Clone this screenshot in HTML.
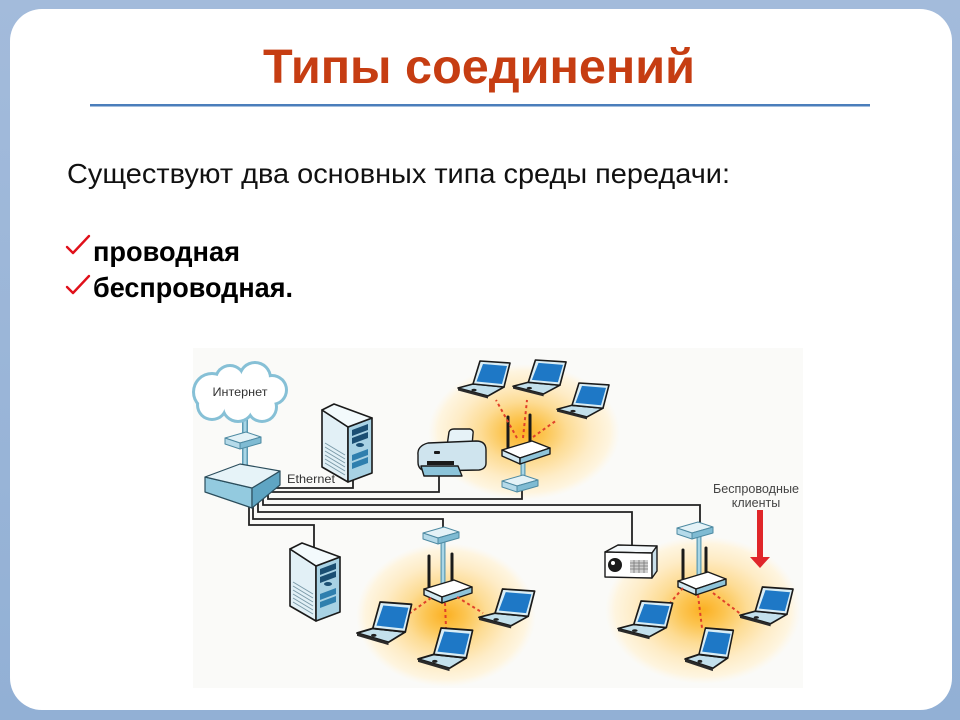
<!DOCTYPE html>
<html>
<head>
<meta charset="utf-8">
<style>
html,body{margin:0;padding:0;background:#95b3d7;}
svg{display:block;}
</style>
</head>
<body>
<svg width="960" height="720" viewBox="0 0 960 720" xmlns="http://www.w3.org/2000/svg">
<defs>
  <linearGradient id="bg" x1="0" y1="0" x2="0" y2="1">
    <stop offset="0" stop-color="#a3bbdb"/>
    <stop offset="1" stop-color="#92b0d5"/>
  </linearGradient>
  <radialGradient id="glow">
    <stop offset="0" stop-color="#fbb022"/>
    <stop offset="0.22" stop-color="#fcc552"/>
    <stop offset="0.45" stop-color="#fddc95"/>
    <stop offset="0.7" stop-color="#feecc6"/>
    <stop offset="0.9" stop-color="#fef5e0"/>
    <stop offset="1" stop-color="#fef7e8" stop-opacity="0"/>
  </radialGradient>
  <g id="lap">
    <polygon points="15,23 46,26 30,35 0,27" fill="#c3e0ec" stroke="#1a1a1a" stroke-width="1.6" stroke-linejoin="round"/>
    <polygon points="0,27 30,35 30,37.5 0,29.5" fill="#2a2a2a"/>
    <polygon points="22,0 52,2 46,26 15,23" fill="#d9edf5" stroke="#1a1a1a" stroke-width="1.6" stroke-linejoin="round"/>
    <polygon points="25,3 49,5 44,23 18.5,20.5" fill="#1e78c6"/>
    <ellipse cx="16" cy="29" rx="2.6" ry="1.3" fill="#222"/>
  </g>
  <g id="srv">
    <polygon points="2,64 28,79 28,24 2,7" fill="#e2f0f6" stroke="#1a1a1a" stroke-width="1.6" stroke-linejoin="round"/>
    <polygon points="28,24 52,15 52,70 28,79" fill="#a8d2e4" stroke="#1a1a1a" stroke-width="1.6" stroke-linejoin="round"/>
    <polygon points="2,7 14,1 52,15 28,24" fill="#f3fafc" stroke="#1a1a1a" stroke-width="1.6" stroke-linejoin="round"/>
    <g stroke="#7a9aa8" stroke-width="1">
      <line x1="5" y1="40" x2="25" y2="52"/>
      <line x1="5" y1="44" x2="25" y2="56"/>
      <line x1="5" y1="48" x2="25" y2="60"/>
      <line x1="5" y1="52" x2="25" y2="64"/>
      <line x1="5" y1="56" x2="25" y2="68"/>
      <line x1="5" y1="60" x2="25" y2="72"/>
    </g>
    <polygon points="32,27 48,21 48,27 32,33" fill="#1b4f73"/>
    <polygon points="32,35 48,29 48,35 32,41" fill="#1b4f73"/>
    <ellipse cx="40" cy="42" rx="4" ry="2" fill="#1b4f73"/>
    <polygon points="32,52 48,46 48,52 32,58" fill="#2f7fae"/>
    <polygon points="32,60 48,54 48,60 32,66" fill="#2f7fae"/>
  </g>
  <g id="rtr">
    <polygon points="0,9 30,0 48,7 18,17" fill="#ffffff" stroke="#1a1a1a" stroke-width="1.4" stroke-linejoin="round"/>
    <polygon points="0,9 18,17 18,23 0,15" fill="#d2e8f1" stroke="#1a1a1a" stroke-width="1.4" stroke-linejoin="round"/>
    <polygon points="18,17 48,7 48,13 18,23" fill="#8fc4d9" stroke="#1a1a1a" stroke-width="1.4" stroke-linejoin="round"/>
  </g>
  <g id="mdm">
    <polygon points="0,6 21,0 36,5 15,11" fill="#e4f2f7" stroke="#4e8aa2" stroke-width="1" stroke-linejoin="round"/>
    <polygon points="0,6 15,11 15,17 0,12" fill="#b5dae9" stroke="#4e8aa2" stroke-width="1" stroke-linejoin="round"/>
    <polygon points="15,11 36,5 36,11 15,17" fill="#7fbbd3" stroke="#4e8aa2" stroke-width="1" stroke-linejoin="round"/>
  </g>
</defs>

<!-- frame -->
<rect x="0" y="0" width="960" height="720" fill="url(#bg)"/>
<rect x="10" y="9" width="942" height="701" rx="32" ry="32" fill="#ffffff"/>

<!-- title -->
<text x="263" y="83" font-family="Liberation Sans, sans-serif" font-weight="bold" font-size="48" fill="#c63d12" textLength="432" lengthAdjust="spacingAndGlyphs">Типы соединений</text>
<rect x="90" y="104" width="780" height="2.5" fill="#4a7ebb"/>

<!-- body -->
<text x="67" y="183" font-family="Liberation Sans, sans-serif" font-size="28" fill="#111" textLength="663" lengthAdjust="spacingAndGlyphs">Существуют два основных типа среды передачи:</text>
<polyline points="67,247 73,253 89,236" fill="none" stroke="#e0101a" stroke-width="2.4" stroke-linejoin="round" stroke-linecap="round"/>
<polyline points="67,287 73,293 89,276" fill="none" stroke="#e0101a" stroke-width="2.4" stroke-linejoin="round" stroke-linecap="round"/>
<text x="93" y="261" font-family="Liberation Sans, sans-serif" font-weight="bold" font-size="28" fill="#000" textLength="147" lengthAdjust="spacingAndGlyphs">проводная</text>
<text x="93" y="297" font-family="Liberation Sans, sans-serif" font-weight="bold" font-size="28" fill="#000" textLength="200" lengthAdjust="spacingAndGlyphs">беспроводная.</text>

<!-- diagram background -->
<rect x="193" y="348" width="610" height="340" fill="#fafaf8"/>

<!-- glows -->
<ellipse cx="524" cy="432" rx="96" ry="68" fill="url(#glow)"/>
<ellipse cx="446" cy="615" rx="90" ry="72" fill="url(#glow)"/>
<ellipse cx="703" cy="610" rx="98" ry="74" fill="url(#glow)"/>

<!-- cables -->
<g fill="none" stroke="#222" stroke-width="1.8" stroke-linejoin="miter">
  <polyline points="276,482 276,488 353,488 353,478"/>
  <polyline points="272,486 272,492 439,492 439,474"/>
  <polyline points="268,490 268,499 522,499 522,488"/>
  <polyline points="263,494 263,505 700,505 700,525"/>
  <polyline points="258,498 258,512 632,512 632,548"/>
  <polyline points="253,502 253,519 443,519 443,532"/>
  <polyline points="249,506 249,525 314,525 314,550"/>
</g>

<!-- internet pipe -->
<g stroke-linecap="butt">
  <line x1="245" y1="418" x2="245" y2="470" stroke="#5d9bb4" stroke-width="6"/>
  <line x1="245" y1="418" x2="245" y2="470" stroke="#a9d6e6" stroke-width="3"/>
</g>

<!-- cloud -->
<g fill="#86c0d6">
  <circle cx="212" cy="392" r="20"/>
  <circle cx="230" cy="380" r="16"/>
  <circle cx="255" cy="378" r="17"/>
  <circle cx="272" cy="390" r="16"/>
  <circle cx="262" cy="407" r="16"/>
  <circle cx="238" cy="406" r="17"/>
  <circle cx="212" cy="405" r="16"/>
</g>
<g fill="#ffffff">
  <circle cx="212" cy="392" r="17"/>
  <circle cx="230" cy="380" r="13"/>
  <circle cx="255" cy="378" r="14"/>
  <circle cx="272" cy="390" r="13"/>
  <circle cx="262" cy="407" r="13"/>
  <circle cx="238" cy="406" r="14"/>
  <circle cx="212" cy="405" r="13"/>
  <rect x="205" y="380" width="65" height="28"/>
</g>
<text x="240" y="396" text-anchor="middle" font-family="Liberation Sans, sans-serif" font-size="11.5" fill="#333" textLength="55" lengthAdjust="spacingAndGlyphs">Интернет</text>

<!-- modem above switch -->
<use href="#mdm" x="225" y="432"/>

<!-- switch -->
<g stroke="#2b4d5c" stroke-width="1.2" stroke-linejoin="round">
  <polygon points="205,477 252,488 252,508 205,492" fill="#93cadf"/>
  <polygon points="252,488 280,471 280,485 252,508" fill="#5fa5c3"/>
  <polygon points="205,477 240,464 280,471 252,488" fill="#e6f3f8"/>
</g>
<text x="287" y="483" font-family="Liberation Sans, sans-serif" font-size="12" fill="#333" textLength="48" lengthAdjust="spacingAndGlyphs">Ethernet</text>

<!-- servers -->
<use href="#srv" x="320" y="403"/>
<use href="#srv" x="288" y="542"/>

<!-- printer -->
<g stroke="#1a1a1a" stroke-width="1.4" stroke-linejoin="round">
  <path d="M447,446 L449,432 Q450,429 454,429 L470,429 Q474,430 473,434 L472,446 Z" fill="#e6f2f7"/>
  <path d="M418,455 Q417,446 428,443 L476,441 Q486,441 486,450 L486,463 Q486,469 479,470 L428,471 Q418,471 418,462 Z" fill="#cfe4ee"/>
  <path d="M421,466 L458,466 L462,476 L424,476 Z" fill="#8cc4da"/>
</g>
<rect x="427" y="461" width="27" height="4" fill="#1a1a1a"/>
<rect x="434" y="451" width="6" height="3" rx="1" fill="#1a1a1a"/>

<!-- projector -->
<g stroke="#1a1a1a" stroke-width="1.4" stroke-linejoin="round">
  <polygon points="605,552 618,545 657,546 652,553" fill="#f4f8fa"/>
  <polygon points="605,552 652,553 652,578 605,577" fill="#ffffff"/>
  <polygon points="652,553 657,546 657,571 652,578" fill="#c9dfe9"/>
</g>
<circle cx="615" cy="565" r="7" fill="#1a1a1a"/>
<circle cx="613" cy="563" r="2" fill="#ffffff"/>
<rect x="630" y="560" width="18" height="13" fill="#cfcfcf"/>
<g stroke="#777" stroke-width="0.8">
  <line x1="630" y1="563" x2="648" y2="563"/>
  <line x1="630" y1="566" x2="648" y2="566"/>
  <line x1="630" y1="569" x2="648" y2="569"/>
  <line x1="634" y1="560" x2="634" y2="573"/>
  <line x1="639" y1="560" x2="639" y2="573"/>
  <line x1="644" y1="560" x2="644" y2="573"/>
</g>

<!-- pipes modem-router -->
<g stroke-linecap="butt">
  <line x1="523" y1="458" x2="523" y2="481" stroke="#5d9bb4" stroke-width="5"/>
  <line x1="523" y1="458" x2="523" y2="481" stroke="#a9d6e6" stroke-width="2.5"/>
  <line x1="443" y1="538" x2="443" y2="588" stroke="#5d9bb4" stroke-width="5"/>
  <line x1="443" y1="538" x2="443" y2="588" stroke="#a9d6e6" stroke-width="2.5"/>
  <line x1="699" y1="535" x2="699" y2="580" stroke="#5d9bb4" stroke-width="5"/>
  <line x1="699" y1="535" x2="699" y2="580" stroke="#a9d6e6" stroke-width="2.5"/>
</g>

<!-- antennas -->
<g stroke="#1a1a1a" stroke-width="3" stroke-linecap="round">
  <line x1="508" y1="417" x2="508" y2="448"/>
  <line x1="530" y1="415" x2="530" y2="442"/>
  <line x1="429" y1="556" x2="429" y2="588"/>
  <line x1="452" y1="554" x2="452" y2="584"/>
  <line x1="683" y1="550" x2="683" y2="580"/>
  <line x1="706" y1="548" x2="706" y2="576"/>
</g>

<!-- modems -->
<use href="#mdm" x="502" y="475"/>
<use href="#mdm" x="423" y="527"/>
<use href="#mdm" x="677" y="522"/>

<!-- routers -->
<use href="#rtr" x="502" y="441"/>
<use href="#rtr" x="424" y="580"/>
<use href="#rtr" x="678" y="572"/>

<!-- dashed wireless links -->
<g stroke="#e0402a" stroke-width="2" stroke-dasharray="3 3" fill="none">
  <line x1="517" y1="438" x2="496" y2="400"/>
  <line x1="523" y1="438" x2="527" y2="400"/>
  <line x1="533" y1="437" x2="557" y2="420"/>
  <line x1="431" y1="598" x2="410" y2="613"/>
  <line x1="445" y1="603" x2="446" y2="628"/>
  <line x1="457" y1="597" x2="483" y2="613"/>
  <line x1="683" y1="588" x2="670" y2="603"/>
  <line x1="698" y1="595" x2="702" y2="628"/>
  <line x1="713" y1="593" x2="742" y2="615"/>
</g>

<!-- laptops -->
<use href="#lap" transform="translate(458,361)"/>
<use href="#lap" transform="translate(513,360) scale(1.02,0.97)"/>
<use href="#lap" transform="translate(557,383) scale(1.0,0.97)"/>
<use href="#lap" transform="translate(357,602) scale(1.05,1.15)"/>
<use href="#lap" transform="translate(418,628) scale(1.05,1.15)"/>
<use href="#lap" transform="translate(479,589) scale(1.07,1.05)"/>
<use href="#lap" transform="translate(618,601) scale(1.05,1.02)"/>
<use href="#lap" transform="translate(685,628) scale(0.93,1.15)"/>
<use href="#lap" transform="translate(740,587) scale(1.02,1.05)"/>

<!-- wireless clients label -->
<text x="756" y="493" text-anchor="middle" font-family="Liberation Sans, sans-serif" font-size="12.5" fill="#444" textLength="86" lengthAdjust="spacingAndGlyphs">Беспроводные</text>
<text x="756" y="507" text-anchor="middle" font-family="Liberation Sans, sans-serif" font-size="12.5" fill="#444">клиенты</text>
<rect x="757" y="510" width="6" height="49" fill="#e0262a"/>
<polygon points="750,557 770,557 760,568" fill="#e0262a"/>
</svg>
</body>
</html>
